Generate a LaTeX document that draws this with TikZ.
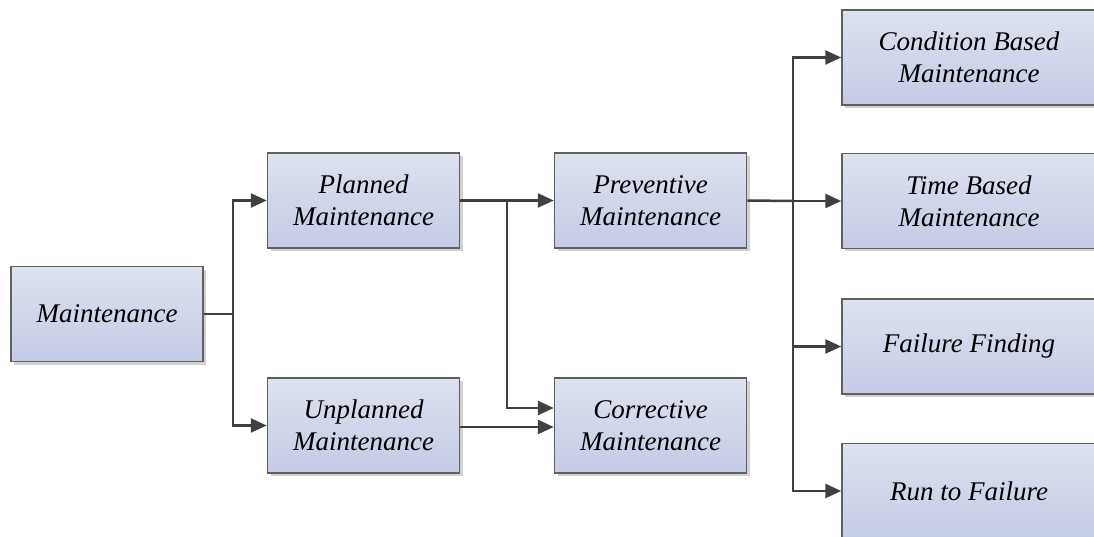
\documentclass[tikz,border=0pt]{standalone}
\usepackage{fontspec}
\setmainfont{Liberation Serif}
\usetikzlibrary{arrows.meta,shadows}
\definecolor{boxtop}{HTML}{DDE2F0}
\definecolor{boxbot}{HTML}{C4CBE5}
\definecolor{boxline}{HTML}{606060}
\definecolor{wire}{HTML}{404040}
\tikzset{
  box/.style={draw=boxline, line width=1.5pt, top color=boxtop, bottom color=boxbot,
    minimum width=#1, minimum height=95pt, align=center, inner sep=0pt,
    font=\fontsize{27pt}{32pt}\selectfont\itshape,
    drop shadow={shadow xshift=3pt, shadow yshift=-3pt, fill=black!18, opacity=1}},
  box/.default=192pt,
  link/.style={draw=wire, line width=2.5pt, -{Triangle[length=16pt,width=14pt]}},
  trunk/.style={draw=wire, line width=2.5pt},
}
\begin{document}
\begin{tikzpicture}[x=1pt,y=-1pt]
\useasboundingbox (0,0) rectangle (1094,537);
\clip (0,0) rectangle (1094,537);

% boxes
\node[box] (m)   at (107,314) {Maintenance};
\node[box] (pm)  at (363.5,200.5) {Planned\\Maintenance};
\node[box] (um)  at (363.5,425.5) {Unplanned\\Maintenance};
\node[box] (pv)  at (650.5,200.5) {Preventive\\Maintenance};
\node[box] (cm)  at (650.5,425.5) {Corrective\\Maintenance};
\node[box=254pt] (cbm) at (969,57.5)  {Condition Based\\Maintenance};
\node[box=254pt] (tbm) at (969,201)   {Time Based\\Maintenance};
\node[box=254pt] (ff)  at (969,346.5) {Failure Finding};
\node[box=254pt] (rtf) at (969,491)   {Run to Failure};

% junction points
\coordinate (j1) at (233,314);
\coordinate (j2) at (507,200.5);
\coordinate (j3) at (793,201);

% Maintenance -> Planned / Unplanned
\draw[trunk] (m.east) -- (j1);
\draw[link] (j1) |- (pm.west);
\draw[link] (j1) |- (um.west);

% Planned -> Preventive, Corrective
\draw[link] (pm.east) -- (pv.west);
\draw[link] (j2) |- (cm.west |- 0,408);
\draw[link] (um.east |- 0,427) -- (cm.west |- 0,427);

% Preventive -> four strategies
\draw[trunk] (pv.east) -- (j3);
\draw[link] (j3) |- (cbm.west);
\draw[link] (j3) -- (tbm.west);
\draw[link] (j3) |- (ff.west);
\draw[link] (j3) |- (rtf.west);
\end{tikzpicture}
\end{document}
